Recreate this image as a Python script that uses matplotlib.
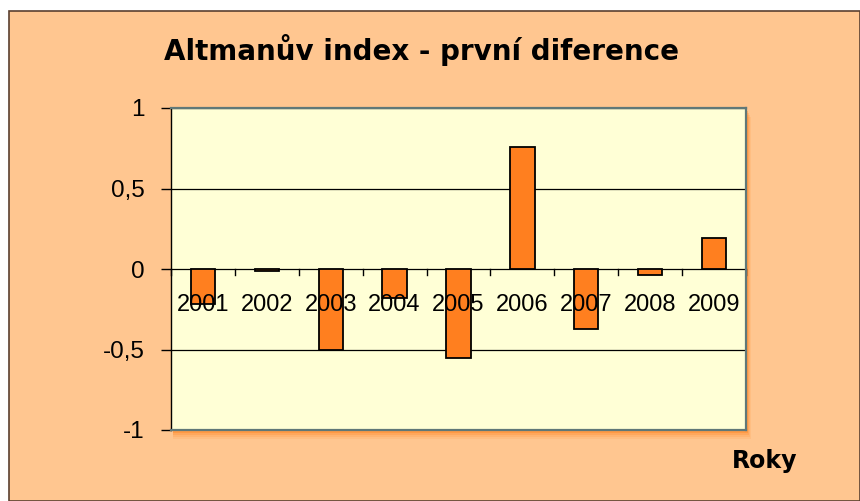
import matplotlib.pyplot as plt
from matplotlib.patches import Rectangle
import numpy as np

years = ["2001", "2002", "2003", "2004", "2005", "2006", "2007", "2008", "2009"]
diffs = [-0.22, -0.01, -0.50, -0.18, -0.55, 0.76, -0.37, -0.04, 0.19]
y_ticks = [-1, -0.5, 0, 0.5, 1]
y_tick_labels = ["-1", "-0,5", "0", "0,5", "1"]

W, H = 860, 501
BG = "#FFC690"
PLOT_BG = "#FFFFD6"
BAR = "#FF7F1F"

fig = plt.figure(figsize=(W / 100, H / 100), dpi=100)
fig.patch.set_facecolor("white")

# chart area with dark border
fig.patches.append(Rectangle((9 / W, 0), (W - 9) / W, (H - 11) / H,
                             transform=fig.transFigure, facecolor=BG,
                             edgecolor="#5a4030", linewidth=1.2, zorder=-2))

# plot area position (pixels)
x0, x1, y0, y1 = 171, 746, 108, 430
rect = [x0 / W, 1 - y1 / H, (x1 - x0) / W, (y1 - y0) / H]

# soft orange shadow below the plot area
for i, a in enumerate([0.10, 0.14, 0.2, 0.3]):
    off = 9 - 2 * i
    fig.patches.append(Rectangle(((x0 + 2) / W, 1 - (y1 + off) / H), (x1 - x0 - 2 + off / 2) / W,
                                 (y1 - y0) / H, transform=fig.transFigure,
                                 facecolor="#FF7A10", edgecolor="none", alpha=a, zorder=-1))

ax = fig.add_axes(rect)
ax.set_zorder(2)
ax.set_facecolor(PLOT_BG)
x = np.arange(len(years))
ax.bar(x, diffs, width=0.38, color=BAR, edgecolor="black", linewidth=1.3, zorder=3)

ax.set_xlim(-0.5, len(years) - 0.5)
ax.set_ylim(-1, 1)
ax.set_yticks(y_ticks)
ax.set_yticklabels(y_tick_labels, fontsize=17.5, family="Liberation Sans")
ax.tick_params(axis="y", length=7, width=1, direction="out", pad=12)
for v in y_ticks:
    ax.axhline(v, color="black", linewidth=0.9, zorder=1)

# category axis at zero with tick marks between categories
ax.set_xticks([])
for b in np.arange(-0.5, len(years), 1.0):
    ax.plot([b, b], [0, -0.035], color="black", linewidth=1, zorder=2, clip_on=False)
for xi, lab in zip(x, years):
    ax.text(xi, -0.225, lab, ha="center", va="center", fontsize=17,
            family="Liberation Sans", zorder=4)

for s in ax.spines.values():
    s.set_color("#607878")
    s.set_linewidth(1.6)
ax.spines["left"].set_color("black")
ax.spines["left"].set_linewidth(1)

fig.text(422 / W, 1 - 50 / H, "Altmanův index - první diference", ha="center", va="center",
         fontsize=20, fontweight="bold", family="DejaVu Sans")
fig.text(765 / W, 1 - 461 / H, "Roky", ha="center", va="center",
         fontsize=17, fontweight="bold", family="DejaVu Sans")

fig.savefig("out.png", dpi=100, facecolor=fig.get_facecolor())
